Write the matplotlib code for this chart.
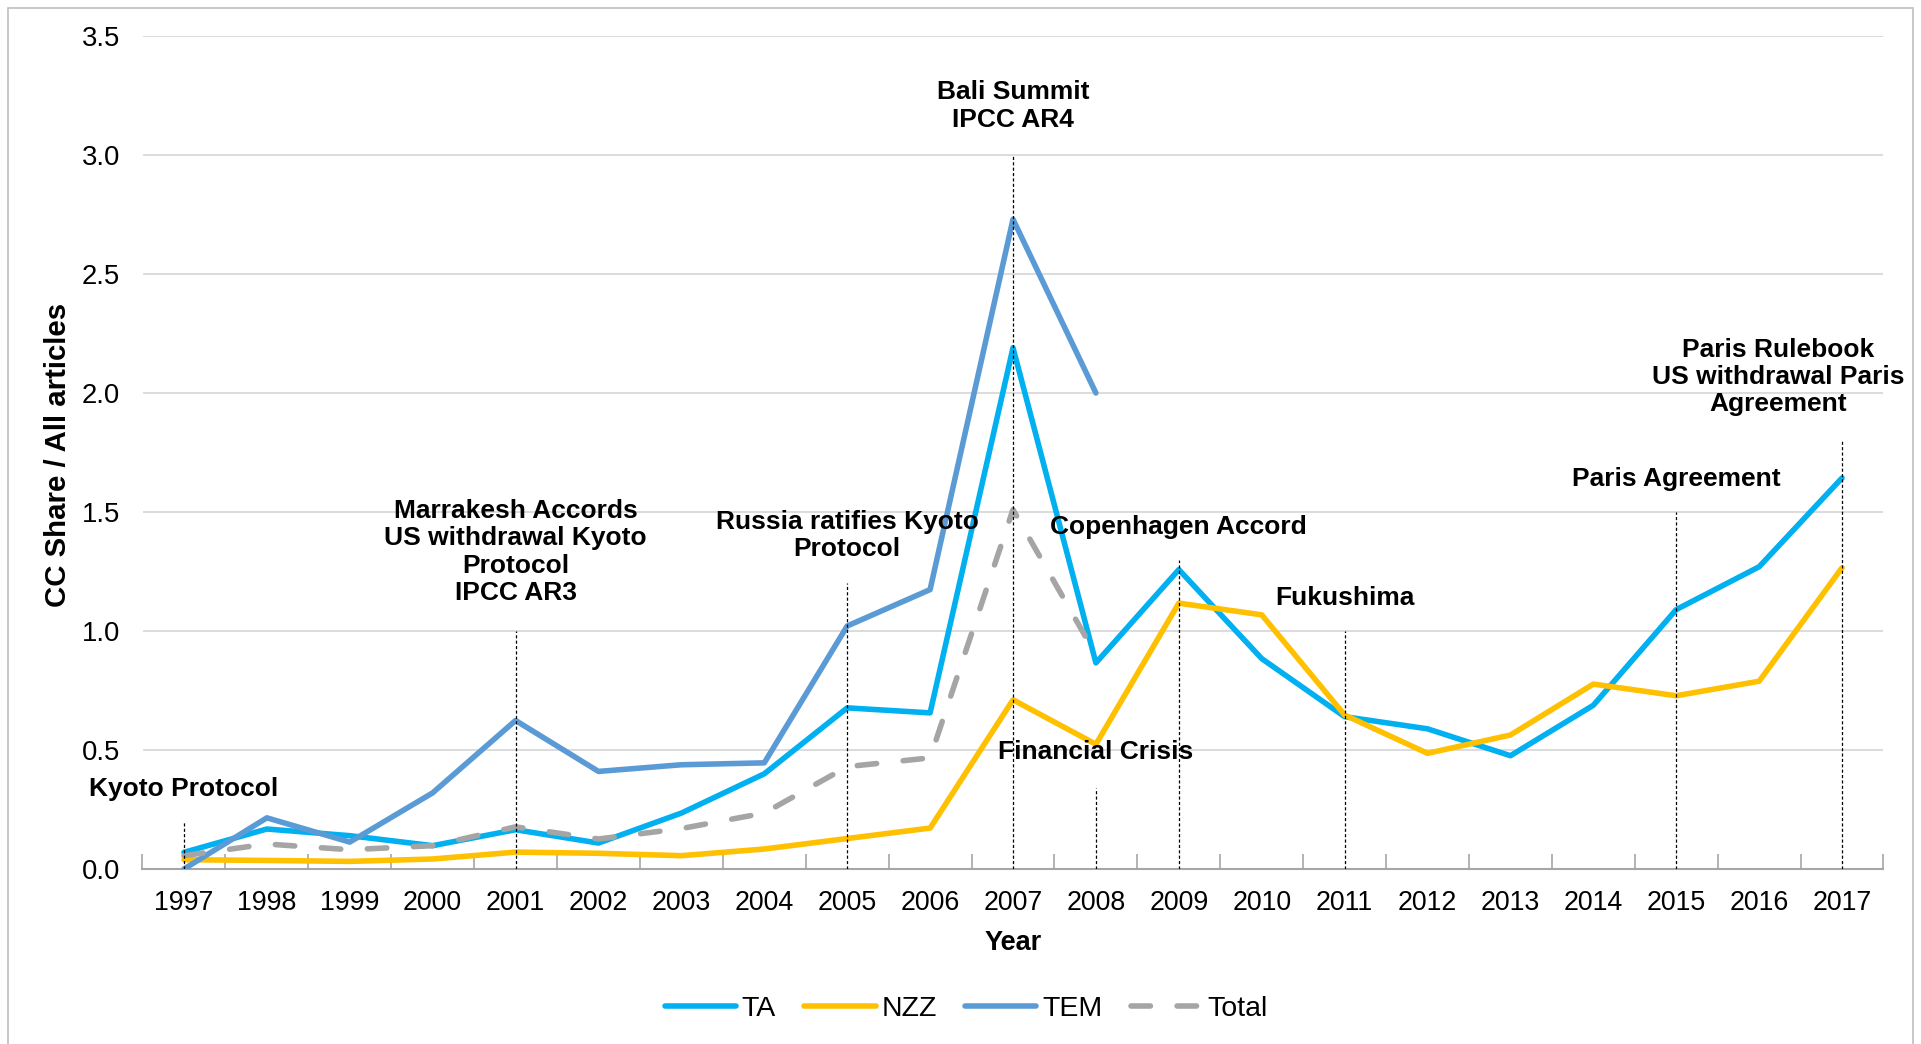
import matplotlib
matplotlib.use("Agg")
import matplotlib.pyplot as plt
from matplotlib.patches import Rectangle

plt.rcParams['font.family'] = ['Liberation Sans', 'DejaVu Sans']

years = list(range(1997, 2018))
ta = [0.07, 0.168, 0.14, 0.098, 0.165, 0.109, 0.235, 0.40, 0.677, 0.656, 2.19,
      0.866, 1.258, 0.884, 0.64, 0.589, 0.476, 0.688, 1.09, 1.27, 1.643]
nzz = [0.039, 0.036, 0.032, 0.042, 0.071, 0.066, 0.056, 0.084, 0.128, 0.172, 0.711,
       0.524, 1.117, 1.068, 0.647, 0.486, 0.563, 0.777, 0.728, 0.789, 1.266]
tem_years = list(range(1997, 2009))
tem = [0.0, 0.215, 0.113, 0.32, 0.624, 0.41, 0.438, 0.446, 1.021, 1.174, 2.73, 2.0]
total_years = list(range(1997, 2009))
total = [0.056, 0.105, 0.081, 0.098, 0.177, 0.126, 0.17, 0.235, 0.43, 0.467, 1.51, 0.9]

event_years = [1997, 2001, 2005, 2007, 2008, 2009, 2011, 2015, 2017]
event_tops = [0.2, 1.0, 1.2, 3.0, 0.34, 1.3, 1.0, 1.5, 1.8]

event_labels = ["Kyoto Protocol",
                "Marrakesh Accords\nUS withdrawal Kyoto\nProtocol\nIPCC AR3",
                "Russia ratifies Kyoto\nProtocol",
                "Bali Summit\nIPCC AR4",
                "Financial Crisis",
                "Copenhagen Accord",
                "Fukushima",
                "Paris Agreement",
                "Paris Rulebook\nUS withdrawal Paris\nAgreement"]
label_x = [1997, 2001, 2005, 2007, 2008, 2009, 2011, 2015, 2016.23]
label_y = [0.335, 1.332, 1.40, 3.206, 0.49, 1.438, 1.139, 1.64, 2.067]

fig = plt.figure(figsize=(19.21, 10.44), dpi=100)
ax = fig.add_axes([142.5 / 1921, 1 - 869 / 1044, 1741 / 1921, 833 / 1044])

# outer chart border
fig.patches.append(Rectangle((8 / 1921, -0.05), (1913 - 8) / 1921, 1.05 - 8 / 1044,
                             transform=fig.transFigure, fill=False,
                             edgecolor='#BFBFBF', linewidth=1.2))

lw = 4
common = dict(linewidth=lw, solid_joinstyle='round', solid_capstyle='round')
ax.plot(years, ta, color='#00B0F0', label='TA', zorder=3, **common)
ax.plot(years, nzz, color='#FFC000', label='NZZ', zorder=4, **common)
ax.plot(tem_years, tem, color='#5B9BD5', label='TEM', zorder=5, **common)
tl, = ax.plot(total_years, total, color='#A5A5A5', label='Total', zorder=6,
              linewidth=lw, dash_capstyle='round', dash_joinstyle='round')
tl.set_dashes((3.5, 4.8))

# event markers
for x, top in zip(event_years, event_tops):
    ax.plot([x, x], [0, top], color='black', linewidth=0.9,
            linestyle=(0, (2.5, 1.8)), zorder=7)

for txt, x, y in zip(event_labels, label_x, label_y):
    ax.text(x, y, txt, ha='center', va='center', fontsize=19, fontweight='bold',
            linespacing=1.17, zorder=8)

ax.set_xlim(1996.5, 2017.5)
ax.set_ylim(0, 3.5)
ax.set_yticks([0, 0.5, 1.0, 1.5, 2.0, 2.5, 3.0, 3.5])
ax.set_yticklabels([f"{v:.1f}" for v in ax.get_yticks()])
ax.set_xticks(years)
ax.set_xticklabels([str(y) for y in years])
ax.set_xticks([y + 0.5 for y in range(1996, 2018)], minor=True)
ax.tick_params(axis='x', which='major', length=0, labelsize=19.3, pad=15)
ax.tick_params(axis='x', which='minor', length=11, direction='in',
               color='#A6A6A6', width=1.2)
ax.tick_params(axis='y', length=0, labelsize=19.8, pad=16)

ax.grid(axis='y', color='#D9D9D9', linewidth=1.3)
ax.set_axisbelow(True)
for s in ['top', 'right', 'left']:
    ax.spines[s].set_visible(False)
ax.spines['bottom'].set_color('#A6A6A6')
ax.spines['bottom'].set_linewidth(1.5)

ax.set_xlabel('Year', fontsize=19.5, fontweight='bold', labelpad=10)
ax.set_ylabel('CC Share / All articles', fontsize=21.2, fontweight='bold', va='center')
ax.yaxis.set_label_coords(-0.0488, 0.4976)

fig.legend(loc='center', bbox_to_anchor=(0.503, 0.0335), ncol=4, frameon=False,
           fontsize=20.5, handlelength=2.5, handletextpad=0.2, columnspacing=1.0)

fig.savefig('out.png', dpi=100)
